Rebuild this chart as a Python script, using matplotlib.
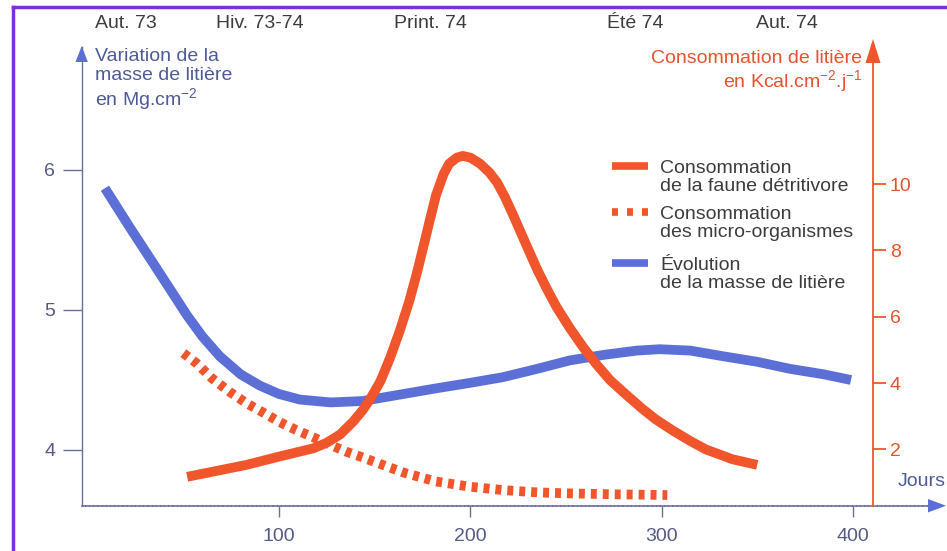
import numpy as np
import matplotlib.pyplot as plt
from matplotlib.lines import Line2D
from matplotlib.patches import Polygon

plt.rcParams['font.family'] = ['Liberation Sans', 'DejaVu Sans']
plt.rcParams['mathtext.default'] = 'regular'
plt.rcParams['lines.scale_dashes'] = False

# evolution de la masse de litiere (Mg.cm-2), axe de gauche
jours_masse = [9, 22, 33, 43, 52, 60, 69, 80, 90, 100, 111, 127, 144, 148, 165, 182, 200, 217,
               235, 252, 270, 287, 299, 315, 332, 350, 367, 385, 399]
masse = [5.87, 5.59, 5.36, 5.15, 4.96, 4.81, 4.67, 4.54, 4.46, 4.40, 4.36, 4.34, 4.35, 4.36, 4.40,
         4.44, 4.48, 4.52, 4.58, 4.64, 4.68, 4.71, 4.72, 4.71, 4.67, 4.63, 4.58, 4.54, 4.50]

# consommation par la faune detritivore (Kcal.cm-2.j-1), axe de droite
jours_faune = [52, 83, 100, 118, 125, 132, 139, 144, 148, 153, 158, 163, 168, 172, 175, 179, 182,
               186, 189, 193, 196, 200, 205, 210, 214, 218, 222, 229, 235, 240, 245, 252, 259,
               266, 273, 282, 290, 297, 306, 315, 323, 337, 350]
faune = [1.17, 1.53, 1.78, 2.03, 2.20, 2.45, 2.85, 3.20, 3.55, 4.05, 4.75, 5.55, 6.45, 7.30, 8.00,
         8.95, 9.65, 10.30, 10.62, 10.80, 10.85, 10.80, 10.62, 10.35, 10.05, 9.62, 9.12, 8.20,
         7.42, 6.84, 6.30, 5.66, 5.08, 4.56, 4.09, 3.62, 3.22, 2.90, 2.56, 2.25, 2.00, 1.70, 1.53]

# consommation par les micro-organismes
jours_micro = [50, 57, 65, 74, 83, 92, 100, 109, 118, 127, 135, 144, 149, 165, 182, 200, 217,
               235, 252, 278, 303]
micro = [4.90, 4.59, 4.14, 3.74, 3.39, 3.10, 2.83, 2.58, 2.36, 2.13, 1.93, 1.75, 1.64, 1.30, 1.03,
         0.87, 0.77, 0.70, 0.67, 0.64, 0.62]

saisons = ['Aut. 73', 'Hiv. 73-74', 'Print. 74', 'Été 74', 'Aut. 74']
saisons_x = [126, 260, 430, 635, 787]

BLEU = '#5b6fd6'
ORANGE = '#f0552b'
TXT_BLEU = '#4e5a98'
TXT_ORANGE = '#e5532d'
GRIS_AXE = '#6b7098'

W, H = 947, 551
def fx(px):
    return px / W
def fy(py):
    return 1 - py / H

fig = plt.figure(figsize=(9.47, 5.51), dpi=100)

ax = fig.add_axes([fx(81.7), fy(505.7), fx(940) - fx(81.7), fy(47) - fy(505.7)])
ax.set_xlim(100 + (81.7 - 279) / 1.913, 100 + (940 - 279) / 1.913)
ax.set_ylim(6 - (505.7 - 170) / 140, 6 + (170 - 47) / 140)
ax2 = ax.twinx()
ax2.set_ylim((515.6 - 505.7) / 33.15, (515.6 - 47) / 33.15)

for s in ['top', 'right']:
    ax.spines[s].set_visible(False)
ax.spines['left'].set_color(GRIS_AXE)
ax.spines['left'].set_linestyle((0, (2, 1)))
ax.spines['left'].set_linewidth(1)
ax.spines['bottom'].set_color(GRIS_AXE)
ax.spines['bottom'].set_linestyle((0, (2, 1)))
ax.spines['bottom'].set_linewidth(1.2)

ax.set_yticks([4, 5, 6])
ax.tick_params(axis='y', direction='out', length=14, width=1, color=GRIS_AXE,
               labelsize=14, labelcolor='#555a85', pad=5)
ax.set_xticks([100, 200, 300, 400])
ax.tick_params(axis='x', direction='out', length=8, width=1, color=GRIS_AXE,
               labelsize=14, labelcolor='#555a85', pad=8)

for s in ['top', 'left', 'bottom']:
    ax2.spines[s].set_visible(False)
ax2.spines['right'].set_position(('data', 410.5))
ax2.spines['right'].set_color(ORANGE)
ax2.spines['right'].set_linewidth(1.3)
ax2.set_yticks([2, 4, 6, 8, 10])
ax2.tick_params(axis='y', direction='out', length=9, width=1.3, color=ORANGE,
                labelsize=14, labelcolor=TXT_ORANGE, pad=3)

# courbes
ax.plot(jours_masse, masse, color=BLEU, lw=7, solid_capstyle='butt', solid_joinstyle='round', zorder=2)
ax2.plot(jours_micro, micro, color=ORANGE, lw=7, linestyle=(0, (4.3, 4.3)), dash_capstyle='butt', zorder=3)
ax2.plot(jours_faune, faune, color=ORANGE, lw=7, solid_capstyle='butt', solid_joinstyle='round', zorder=4)

# fleches des axes
def fleche(pts, c):
    fig.add_artist(Polygon([(fx(a), fy(b)) for a, b in pts], closed=True,
                           transform=fig.transFigure, color=c, lw=0))
fleche([(81.7, 46), (75.5, 62), (87.9, 62)], BLEU)
fleche([(873, 39), (865.5, 63), (880.5, 63)], ORANGE)
fleche([(946, 505.7), (928, 499), (928, 512.4)], BLEU)

# saisons
for lab, x in zip(saisons, saisons_x):
    fig.text(fx(x), fy(23), lab, ha='center', va='center', fontsize=14, color='#3c3c3c')

fig.text(fx(95), fy(80), 'Variation de la\nmasse de litière\nen Mg.cm$^{-2}$', ha='left', va='center',
         fontsize=14, color=TXT_BLEU, linespacing=1.12)
fig.text(fx(862), fy(72), 'Consommation de litière\nen Kcal.cm$^{-2}$.j$^{-1}$', ha='right', va='center',
         fontsize=14, color=TXT_ORANGE, linespacing=1.1, multialignment='right')
fig.text(fx(898), fy(481), 'Jours', ha='left', va='center', fontsize=14, color=TXT_BLEU)

# legende
leg = [('Consommation\nde la faune détritivore', ORANGE, '-', 166),
       ('Consommation\ndes micro-organismes', ORANGE, (0, (4.3, 6.5)), 212),
       ('Évolution\nde la masse de litière', BLEU, '-', 263)]
for lab, c, ls, y in leg:
    fig.add_artist(Line2D([fx(612), fx(648)], [fy(y), fy(y)], transform=fig.transFigure,
                          color=c, lw=5.5, linestyle=ls, solid_capstyle='butt', dash_capstyle='butt'))
    fig.text(fx(660), fy(y + 11.5), lab, ha='left', va='center', fontsize=14, color='#3c3c3c',
             linespacing=1.12)

# cadre violet
fig.add_artist(Line2D([fx(13), fx(13)], [fy(7), 0], transform=fig.transFigure, color='#7d2ee0', lw=2.5))
fig.add_artist(Line2D([fx(13), 1], [fy(7), fy(7)], transform=fig.transFigure, color='#7d2ee0', lw=2.5))

fig.savefig('out.png', dpi=100)
